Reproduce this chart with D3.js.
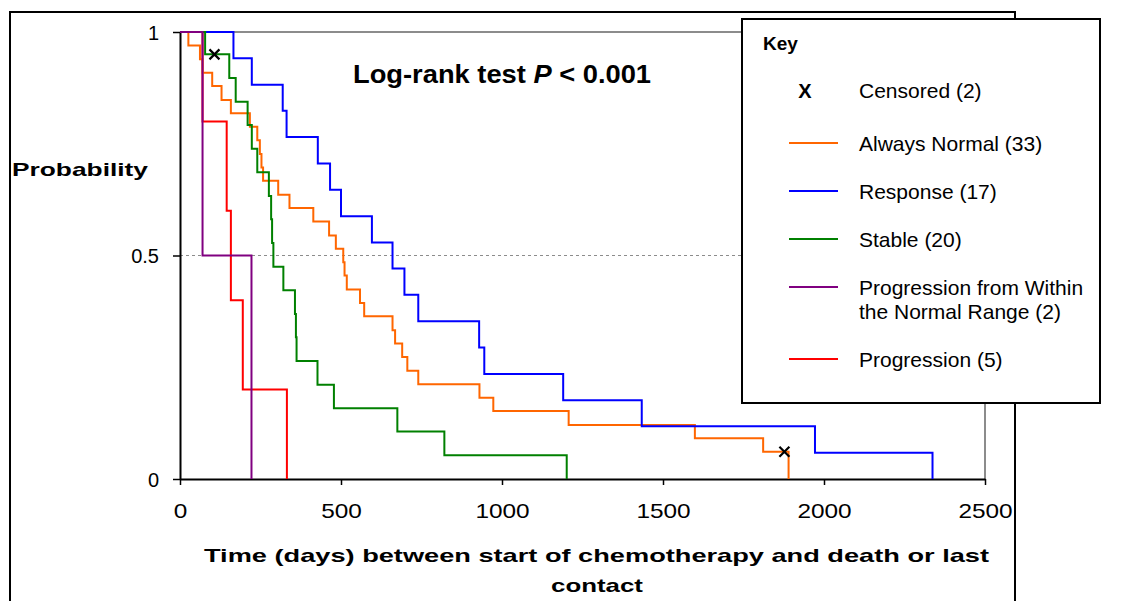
<!DOCTYPE html>
<html><head><meta charset="utf-8">
<script src="https://cdn.jsdelivr.net/npm/d3@7"></script>
<style>body{margin:0;background:#fff} svg{display:block} text{font-family:"Liberation Sans",Arial,sans-serif;fill:#000}</style>
</head><body><svg id="c" width="1126" height="601"></svg>
<script>
// ---- data ----
const xTicks = [0, 500, 1000, 1500, 2000, 2500];
const yTicks = [0, 0.5, 1];
const yTickLabels = ["0", "0.5", "1"];

const seriesNames = ["Always Normal (33)", "Response (17)", "Stable (20)", "Progression from Within|the Normal Range (2)", "Progression (5)"];
const seriesColors = ["#FF6600", "#0000FF", "#008000", "#800080", "#FF0000"];

const alwaysNormalT = [0, 26, 62, 70, 100, 129, 158, 217, 240, 248, 253, 258, 305, 340, 414, 463, 484, 507, 511, 518, 559, 572, 660, 668, 690, 706, 740, 930, 973, 1207, 1599, 1811, 1890];
const alwaysNormalS = [1, 0.970, 0.939, 0.909, 0.879, 0.848, 0.818, 0.788, 0.758, 0.727, 0.697, 0.667, 0.636, 0.606, 0.576, 0.545, 0.515, 0.485, 0.455, 0.424, 0.394, 0.364, 0.333, 0.303, 0.273, 0.242, 0.212, 0.182, 0.152, 0.121, 0.091, 0.061, 0];

const responseT = [0, 166, 223, 319, 331, 428, 466, 500, 596, 660, 697, 740, 929, 945, 1190, 1434, 1972, 2337];
const responseS = [1, 0.941, 0.882, 0.824, 0.765, 0.706, 0.647, 0.588, 0.529, 0.471, 0.412, 0.353, 0.294, 0.235, 0.176, 0.118, 0.059, 0];

const stableT = [0, 78, 153, 173, 210, 223, 240, 276, 283, 286, 290, 321, 357, 360, 362, 427, 478, 675, 821, 1201];
const stableS = [1, 0.95, 0.897, 0.844, 0.792, 0.739, 0.686, 0.633, 0.581, 0.528, 0.475, 0.422, 0.369, 0.317, 0.264, 0.211, 0.158, 0.106, 0.053, 0];

const progWithinT = [0, 70, 222];
const progWithinS = [1, 0.5, 0];

const progressionT = [0, 70, 145, 158, 195, 332];
const progressionS = [1, 0.8, 0.6, 0.4, 0.2, 0];

const censoredT = [107, 1877];
const censoredS = [0.95, 0.061];

// ---- drawing ----
const svg = d3.select("#c");
const x = d3.scaleLinear().domain([0, 2500]).range([180, 985]);
const y = d3.scaleLinear().domain([0, 1]).range([479, 32]);

// outer frame
svg.append("rect").attr("x", 10).attr("y", 12).attr("width", 1005).attr("height", 640)
  .attr("fill", "#fff").attr("stroke", "#000").attr("stroke-width", 2);

// gridlines & plot border
svg.append("line").attr("x1", x(0)).attr("x2", x(2500)).attr("y1", y(1)).attr("y2", y(1))
  .attr("stroke", "#8c8c8c").attr("stroke-width", 2);
svg.append("line").attr("x1", x(0)).attr("x2", x(2500)).attr("y1", y(0.5)).attr("y2", y(0.5))
  .attr("stroke", "#8c8c8c").attr("stroke-width", 1).attr("stroke-dasharray", "3,3");
svg.append("line").attr("x1", x(2500)).attr("x2", x(2500)).attr("y1", y(1)).attr("y2", y(0))
  .attr("stroke", "#8c8c8c").attr("stroke-width", 2);

// axes
const gx = svg.append("g").attr("transform", `translate(0,${y(0)})`)
  .call(d3.axisBottom(x).tickValues(xTicks).tickSize(6).tickSizeOuter(0).tickFormat(d3.format("d")));
gx.select(".domain").attr("stroke", "#000").attr("stroke-width", 2);
gx.selectAll(".tick line").attr("stroke", "#000").attr("stroke-width", 1.5);
gx.selectAll(".tick text").attr("y", 39).attr("dy", 0).attr("font-size", 20)
  .attr("font-family", "Liberation Sans, Arial, sans-serif").attr("transform", "scale(1.22,1)");

const gy = svg.append("g").attr("transform", `translate(${x(0)},0)`)
  .call(d3.axisLeft(y).tickValues(yTicks).tickSize(7).tickSizeOuter(0).tickFormat((d, i) => yTickLabels[i]));
gy.select(".domain").attr("stroke", "#000").attr("stroke-width", 2);
gy.selectAll(".tick line").attr("stroke", "#000").attr("stroke-width", 1.5);
gy.selectAll(".tick text").attr("x", -21).attr("dy", "0.35em").attr("font-size", 20)
  .attr("font-family", "Liberation Sans, Arial, sans-serif");

// series
const series = [
  {t: progressionT, s: progressionS, c: seriesColors[4]},
  {t: alwaysNormalT, s: alwaysNormalS, c: seriesColors[0]},
  {t: responseT, s: responseS, c: seriesColors[1]},
  {t: stableT, s: stableS, c: seriesColors[2]},
  {t: progWithinT, s: progWithinS, c: seriesColors[3]}
];
const line = d3.line().x(d => x(d[0])).y(d => y(d[1])).curve(d3.curveStepAfter);
series.forEach(sr => {
  const pts = sr.t.map((t, i) => [t, sr.s[i]]);
  svg.append("path").datum(pts).attr("d", line).attr("fill", "none")
    .attr("stroke", sr.c).attr("stroke-width", 2);
});

// censored markers
censoredT.forEach((t, i) => {
  const cx = x(t), cy = y(censoredS[i]);
  svg.append("path").attr("d", `M${cx-5},${cy-5}L${cx+5},${cy+5}M${cx-5},${cy+5}L${cx+5},${cy-5}`)
    .attr("stroke", "#000").attr("stroke-width", 2.2);
});

// annotation
const ann = svg.append("text").attr("x", 353).attr("y", 83).attr("font-size", 25).attr("font-weight", "bold")
  .attr("textLength", 298).attr("lengthAdjust", "spacingAndGlyphs");
ann.append("tspan").text("Log-rank test ");
ann.append("tspan").attr("font-style", "italic").text("P");
ann.append("tspan").text(" < 0.001");

// axis titles
svg.append("text").attr("x", 12).attr("y", 176).attr("font-size", 19).attr("font-weight", "bold")
  .attr("textLength", 136).attr("lengthAdjust", "spacingAndGlyphs").text("Probability");
svg.append("text").attr("x", 204).attr("y", 562).attr("font-size", 19).attr("font-weight", "bold")
  .attr("textLength", 785).attr("lengthAdjust", "spacingAndGlyphs")
  .text("Time (days) between start of chemotherapy and death or last");
svg.append("text").attr("x", 551).attr("y", 592).attr("font-size", 19).attr("font-weight", "bold")
  .attr("textLength", 92).attr("lengthAdjust", "spacingAndGlyphs").text("contact");

// legend
const lg = svg.append("g");
lg.append("rect").attr("x", 742).attr("y", 19).attr("width", 358).attr("height", 384)
  .attr("fill", "#fff").attr("stroke", "#000").attr("stroke-width", 2);
lg.append("text").attr("x", 763).attr("y", 50).attr("font-size", 19).attr("font-weight", "bold").text("Key");
lg.append("text").attr("x", 805).attr("y", 98).attr("text-anchor", "middle").attr("font-size", 20).attr("font-weight", "bold").text("X");
lg.append("text").attr("x", 859).attr("y", 98).attr("font-size", 21).text("Censored (2)");
const legendY = [143, 191, 239, 287, 359];
seriesNames.forEach((name, i) => {
  const ly = legendY[i];
  lg.append("line").attr("x1", 789).attr("x2", 838).attr("y1", ly).attr("y2", ly)
    .attr("stroke", seriesColors[i]).attr("stroke-width", 2);
  name.split("|").forEach((part, j) => {
    lg.append("text").attr("x", 859).attr("y", ly + 8 + j * 24).attr("font-size", 21).text(part);
  });
});
</script>
</body></html>
